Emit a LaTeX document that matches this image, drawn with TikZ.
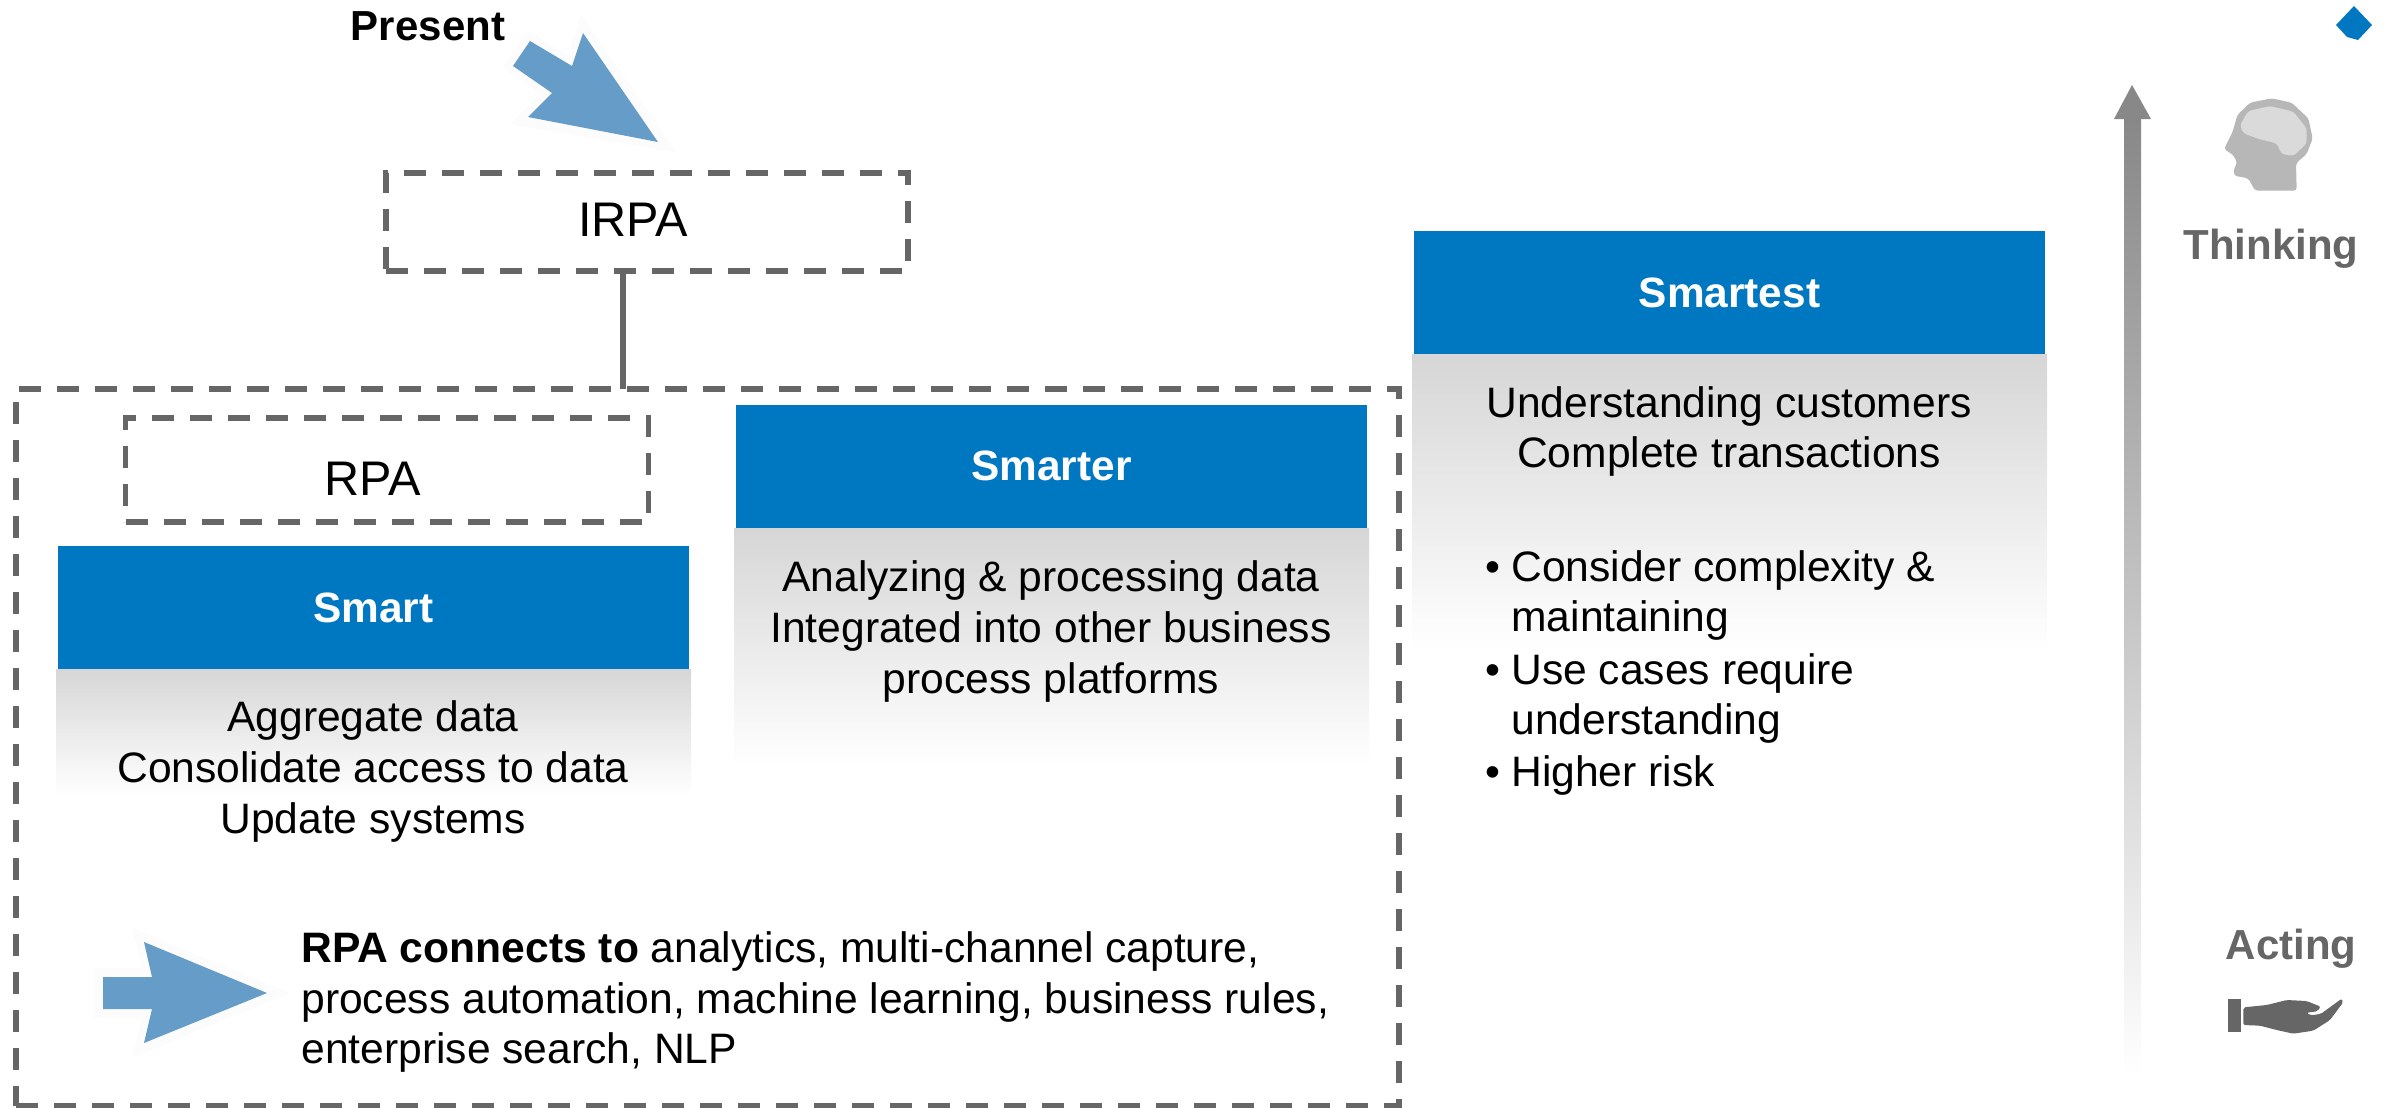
\documentclass[tikz,border=0pt]{standalone}
\usepackage{fontspec}
\setmainfont{Liberation Sans}
\definecolor{sapblue}{HTML}{0077C1}
\definecolor{dashgray}{HTML}{666666}
\definecolor{arrowblue}{HTML}{659CC8}
\definecolor{halo}{HTML}{FCFCFC}
\definecolor{headgray}{HTML}{B7B7B7}
\definecolor{braingray}{HTML}{DADADA}
\definecolor{upgray}{HTML}{888888}
\definecolor{fadegray}{HTML}{D6D6D6}
\tikzset{
  dashedbox/.style={draw=dashgray,line width=2.8pt,dash pattern=on 11pt off 8pt,inner sep=0pt,outer sep=0pt},
  bluehead/.style={fill=sapblue,text=white,font=\fontsize{21.2}{25}\selectfont\bfseries,minimum width=315.5pt,minimum height=61.5pt,inner sep=0pt,outer sep=0pt},
  bodytext/.style={font=\fontsize{21.3}{25.3}\selectfont,align=center,inner sep=0pt,text=black},
  lefttext/.style={font=\fontsize{21.3}{25.3}\selectfont,align=left,anchor=west,inner sep=0pt,text=black},
  boxlabel/.style={font=\fontsize{24.3}{28}\selectfont,inner sep=0pt,text=black},
  sidelabel/.style={font=\fontsize{21}{25}\selectfont\bfseries,text=dashgray,inner sep=0pt},
  fade/.style={top color=fadegray,bottom color=white,draw=none},
}
\newcommand{\bul}{\llap{•\hspace{5.5pt}}}
\begin{document}
\begin{tikzpicture}[x=0.5pt,y=-0.5pt]
\useasboundingbox (0,0) rectangle (2384,1108);
% big frame and boxes
\node[dashedbox,minimum width=691.5pt,minimum height=358.5pt] (frame) at (707.5,747.5) {};
\node[dashedbox,minimum width=261pt,minimum height=49pt] (irpa) at (647,222) {};
\node[boxlabel] (irpalabel) at (633,220) {IRPA};
\node[dashedbox,minimum width=261.5pt,minimum height=52pt] (rpa) at (387,470) {};
\node[boxlabel] (rpalabel) at (373,479) {RPA};
\coordinate (linkx) at (623,0);
\draw[draw=dashgray,line width=2.8pt] (linkx |- irpa.south) -- (linkx |- frame.north);
% gradients
\shade[fade] (56,669) rectangle (691,795);
\shade[fade] (734,528) rectangle (1369,765);
\shade[fade] (1412,354) rectangle (2047,650);
% blue heads
\node[bluehead] (smart) at (373.5,607.5) {Smart};
\node[bluehead] (smarter) at (1051.5,466) {Smarter};
\node[bluehead] (smartest) at (1729.5,292.5) {Smartest};
% body text
\node[bodytext] (smarttxt) at (373,771.5) {Aggregate data\\Consolidate access to data\\Update systems};
\node[bodytext] (smartertxt) at (1051,631.5) {Analyzing \& processing data\\Integrated into other business\\process platforms};
\node[bodytext] (smartesttxt) at (1729,431.5) {Understanding customers\\Complete transactions};
\node[lefttext] (b1) at (1511,595.5) {\bul Consider complexity \&\\maintaining};
\node[lefttext] (b2) at (1511,698.5) {\bul Use cases require\\understanding};
\node[lefttext] (b3) at (1511,775) {\bul Higher risk};
\node[lefttext] (connects) at (301,1002) {\textbf{RPA connects to} analytics, multi-channel capture,\\process automation, machine learning, business rules,\\enterprise search, NLP};
% present arrow
\node[font=\fontsize{21}{25}\selectfont\bfseries,inner sep=0pt] (present) at (428,26) {Present};
\fill[halo] (581,14) -- (568,56) -- (528,30) -- (502,68) -- (540,94) -- (510,124) -- (677,153) -- cycle;
\fill[arrowblue] (658,142) -- (583,33) -- (572,66) -- (530,41) -- (513,66) -- (552,93) -- (528,117) -- cycle;
% rpa arrow
\fill[halo] (290,993) -- (132,928) -- (142,968) -- (93,968) -- (93,1018) -- (142,1018) -- (132,1058) -- cycle;
\fill[arrowblue] (267,993) -- (144,942) -- (152,977) -- (103,977) -- (103,1009) -- (152,1009) -- (144,1043) -- cycle;
% thinking-acting arrow
\shade[top color=upgray,bottom color=white] (2124,119) rectangle (2141,1075);
\fill[upgray] (2132,85) -- (2151,119) -- (2114,119) -- cycle;
% diamond
\fill[sapblue] (2354,6) -- (2372,25) -- (2358,40) -- (2347,37) -- (2336,25) -- cycle;
% labels
\node[sidelabel] (thinking) at (2271,249) {Thinking};
\node[sidelabel] (acting) at (2291,949) {Acting};
% head icon
\begin{scope}[shift={(2080,0)},x=0.16667pt,y=-0.16667pt]
\fill[headgray,rounded corners=1.5pt] (525,572) -- (650,572) -- (648,490) -- (680,462) -- (698,415) -- (685,355) -- (635,308) -- (575,295) -- (510,308) -- (472,345) -- (458,395) -- (432,447) -- (460,465) -- (472,490) -- (462,503) -- (462,527) -- (505,535) -- cycle;
\fill[braingray,rounded corners=1.5pt] (480,375) -- (505,333) -- (570,318) -- (640,335) -- (680,385) -- (680,430) -- (640,468) -- (605,462) -- (590,430) -- (540,418) -- (490,400) -- cycle;
\end{scope}
% hand icon
\begin{scope}[shift={(2080,880)},x=0.16667pt,y=-0.16667pt]
\fill[dashgray] (443,357) rectangle (482,455);
\fill[dashgray,rounded corners=1pt] (490,382) -- (560,375) -- (620,360) -- (680,363) -- (722,380) -- (712,394) -- (680,398) -- (690,406) -- (722,402) -- (785,356) -- (790,366) -- (750,420) -- (700,452) -- (640,461) -- (590,450) -- (540,437) -- (490,435) -- cycle;
\end{scope}
\end{tikzpicture}
\end{document}
